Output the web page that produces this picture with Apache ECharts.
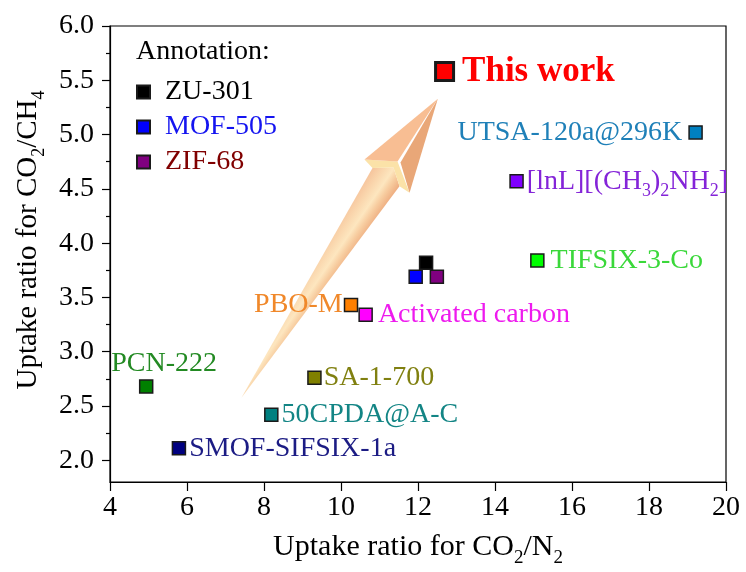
<!DOCTYPE html>
<html>
<head>
<meta charset="utf-8">
<script src="https://cdn.jsdelivr.net/npm/echarts@6/dist/echarts.min.js"></script>
<style>
  html, body { margin: 0; padding: 0; background: #fff; }
  #chart { width: 746px; height: 572px; }
</style>
</head>
<body>
<div id="chart"></div>
<script>
// Adsorbents compared by CO2/N2 and CO2/CH4 uptake ratios
const materials = ['This work', 'UTSA-120a@296K', '[lnL][(CH3)2NH2]', 'TIFSIX-3-Co', 'ZU-301', 'MOF-505',
  'ZIF-68', 'PBO-M', 'Activated carbon', 'PCN-222', 'SA-1-700', '50CPDA@A-C', 'SMOF-SIFSIX-1a'];
const co2n2Ratio = [12.69, 19.21, 14.56, 15.10, 12.21, 11.94, 12.49, 10.26, 10.64, 4.94, 9.31, 8.19, 5.79];
const co2ch4Ratio = [5.58, 5.02, 4.57, 3.84, 3.82, 3.69, 3.69, 3.43, 3.34, 2.68, 2.76, 2.42, 2.11];
const legendNames = ['ZU-301', 'MOF-505', 'ZIF-68'];
const xTicks = [4, 6, 8, 10, 12, 14, 16, 18, 20];
const yTicks = [2.0, 2.5, 3.0, 3.5, 4.0, 4.5, 5.0, 5.5, 6.0];

const FONT = '"Liberation Serif", "Times New Roman", serif';

// marker fill per material
const markerColors = ['#ff0000', '#0080c0', '#8000ff', '#00ff00', '#000000', '#0000ff',
  '#800080', '#ff8000', '#ff00ff', '#008000', '#808000', '#008080', '#000080'];

// point label styling per material (absent = no label)
const labelStyles = {
  'This work': { position: 'right', distance: 7, color: '#ff0000', fontSize: 35, fontWeight: 'bold' },
  'UTSA-120a@296K': { position: 'left', distance: 6, color: '#1f80b8' },
  '[lnL][(CH3)2NH2]': { position: 'right', distance: 3, color: '#8424d8',
    formatter: '[lnL][(CH{s|3}){s|2}NH{s|2}]' },
  'TIFSIX-3-Co': { position: 'right', distance: 6, color: '#3ad83a' },
  'PBO-M': { position: 'left', distance: 1, color: '#f0882a' },
  'Activated carbon': { position: 'right', distance: 5, color: '#ee1aee' },
  'PCN-222': { position: 'top', distance: 2, offset: [18, 0], color: '#238a23' },
  'SA-1-700': { position: 'right', distance: 2, color: '#808010' },
  '50CPDA@A-C': { position: 'right', distance: 3, color: '#138585' },
  'SMOF-SIFSIX-1a': { position: 'right', distance: 3, color: '#1c1c84' }
};
const legendTextColors = { 'ZU-301': '#000000', 'MOF-505': '#1414f0', 'ZIF-68': '#800000' };

const subStyle = (size, pad) => ({ fontFamily: FONT, fontSize: size, lineHeight: size, padding: [pad, 0, 0, 0] });

const series = materials.map((name, i) => {
  const ls = labelStyles[name];
  const s = {
    name,
    type: 'scatter',
    symbol: 'rect',
    symbolSize: name === 'This work' ? 18 : 13,
    data: [[co2n2Ratio[i], co2ch4Ratio[i]]],
    itemStyle: {
      color: markerColors[i],
      borderColor: '#1a1a1a',
      borderWidth: name === 'This work' ? 3 : 1.5,
      opacity: 1
    },
    emphasis: { disabled: true },
    z: name === 'This work' ? 4 : 3
  };
  if (ls) {
    s.label = {
      show: true,
      position: ls.position,
      distance: ls.distance,
      offset: ls.offset || [0, 0],
      color: ls.color,
      fontFamily: FONT,
      fontSize: ls.fontSize || 28,
      fontWeight: ls.fontWeight || 'normal',
      formatter: ls.formatter || name,
      rich: { s: Object.assign(subStyle(18, 20), { color: ls.color }) }
    };
  } else {
    s.label = { show: false };
  }
  return s;
});

const chart = echarts.init(document.getElementById('chart'), null, { renderer: 'canvas' });

const option = {
  animation: false,
  backgroundColor: '#fff',
  title: {
    text: 'Annotation:',
    left: 136,
    top: 38,
    padding: 0,
    textStyle: { fontFamily: FONT, fontSize: 28, fontWeight: 'normal', color: '#000' }
  },
  legend: {
    data: legendNames.map(n => ({ name: n, textStyle: { color: legendTextColors[n] } })),
    orient: 'vertical',
    left: 136,
    top: 78,
    padding: 0,
    itemWidth: 13,
    itemHeight: 13,
    itemGap: 7,
    selectedMode: false,
    icon: 'rect',
    textStyle: { fontFamily: FONT, fontSize: 28, lineHeight: 28, padding: [0, 0, 0, 10] }
  },
  grid: {
    left: 110, right: 20, top: 26, bottom: 90,
    outerBoundsMode: 'none',
    containLabel: false,
    show: true, borderColor: '#000', borderWidth: 1.2, backgroundColor: 'transparent'
  },
  xAxis: {
    type: 'value',
    min: xTicks[0],
    max: xTicks[xTicks.length - 1],
    interval: 2,
    axisLine: { show: true, lineStyle: { color: '#000', width: 1.2 } },
    axisTick: { show: true, inside: false, length: 9, lineStyle: { color: '#000', width: 1.2 } },
    splitLine: { show: false },
    axisLabel: { color: '#000', fontFamily: FONT, fontSize: 28, margin: 12 },
    name: 'Uptake ratio for CO{s|2}/N{s|2}',
    nameLocation: 'middle',
    nameGap: 46,
    nameTextStyle: {
      color: '#000', fontFamily: FONT, fontSize: 30,
      rich: { s: Object.assign(subStyle(19, 22), { color: '#000' }) }
    }
  },
  yAxis: [
    {
      type: 'value',
      min: 1.8,
      max: 6.0,
      position: 'left',
      axisLine: { show: true, lineStyle: { color: '#000', width: 1.2 } },
      axisTick: { show: true, inside: false, length: 8, customValues: yTicks, lineStyle: { color: '#000', width: 1.2 } },
      splitLine: { show: false },
      axisLabel: {
        color: '#000', fontFamily: FONT, fontSize: 28, margin: 16,
        customValues: yTicks,
        formatter: v => Number(v).toFixed(1)
      },
      name: 'Uptake ratio for CO{s|2}/CH{s|4}',
      nameLocation: 'middle',
      nameGap: 66,
      nameRotate: 90,
      nameTextStyle: {
        color: '#000', fontFamily: FONT, fontSize: 29, padding: [0, 0, 0, 28],
        rich: { s: Object.assign(subStyle(18, 22), { color: '#000' }) }
      }
    },
    {
      // minor ticks halfway between labelled values
      type: 'value',
      min: 1.8,
      max: 6.0,
      position: 'left',
      axisLine: { show: false },
      axisLabel: { show: false },
      splitLine: { show: false },
      axisTick: {
        show: true, inside: false, length: 4,
        customValues: yTicks.slice(0, -1).map((v, k) => (v + yTicks[k + 1]) / 2),
        lineStyle: { color: '#000', width: 1.2 }
      }
    }
  ],
  series
};

chart.setOption(option);

// Decorative trend arrow, placed in data space and mapped to pixels
const arrowPts = {
  tail: [7.41, 2.573],
  tip: [12.515, 5.329],
  headLeft: [10.61, 4.77],
  ridge: [11.468, 4.751],
  headRight: [11.78, 4.463],
  neckLeft: [10.818, 4.693],
  neckRight: [11.519, 4.524],
  notch: [11.364, 4.696]
};
const P = {};
Object.keys(arrowPts).forEach(k => { P[k] = chart.convertToPixel({ xAxisIndex: 0, yAxisIndex: 0 }, arrowPts[k]); });

const shaftFill = new echarts.graphic.LinearGradient(
  P.neckLeft[0], P.neckLeft[1], P.neckRight[0], P.neckRight[1],
  [
    { offset: 0, color: '#f6c49c' },
    { offset: 0.3, color: '#fad7ae' },
    { offset: 0.55, color: '#fde6bf' },
    { offset: 0.75, color: '#f7cc9f' },
    { offset: 1, color: '#eead80' }
  ],
  true
);

chart.setOption({
  graphic: [
    {
      type: 'polygon', z: 1, silent: true,
      shape: { points: [P.tail, P.neckRight, P.notch, P.neckLeft] },
      style: { fill: shaftFill }
    },
    {
      type: 'polygon', z: 1, silent: true,
      shape: { points: [P.headLeft, P.ridge, P.headRight, P.neckRight, P.notch, P.neckLeft] },
      style: { fill: '#fbe2a8' }
    },
    {
      type: 'polygon', z: 1, silent: true,
      shape: { points: [P.headLeft, P.tip, P.ridge] },
      style: { fill: '#f8be93' }
    },
    {
      type: 'polygon', z: 1, silent: true,
      shape: { points: [[P.ridge[0] + 3, P.ridge[1] + 1], P.tip, P.headRight] },
      style: { fill: '#e9a778' }
    },
    {
      // keeps the long label inside the frame
      type: 'rect', z: 100, silent: true,
      left: 727, top: 160,
      shape: { width: 19, height: 45 },
      style: { fill: '#fff' }
    }
  ]
});
</script>
</body>
</html>
